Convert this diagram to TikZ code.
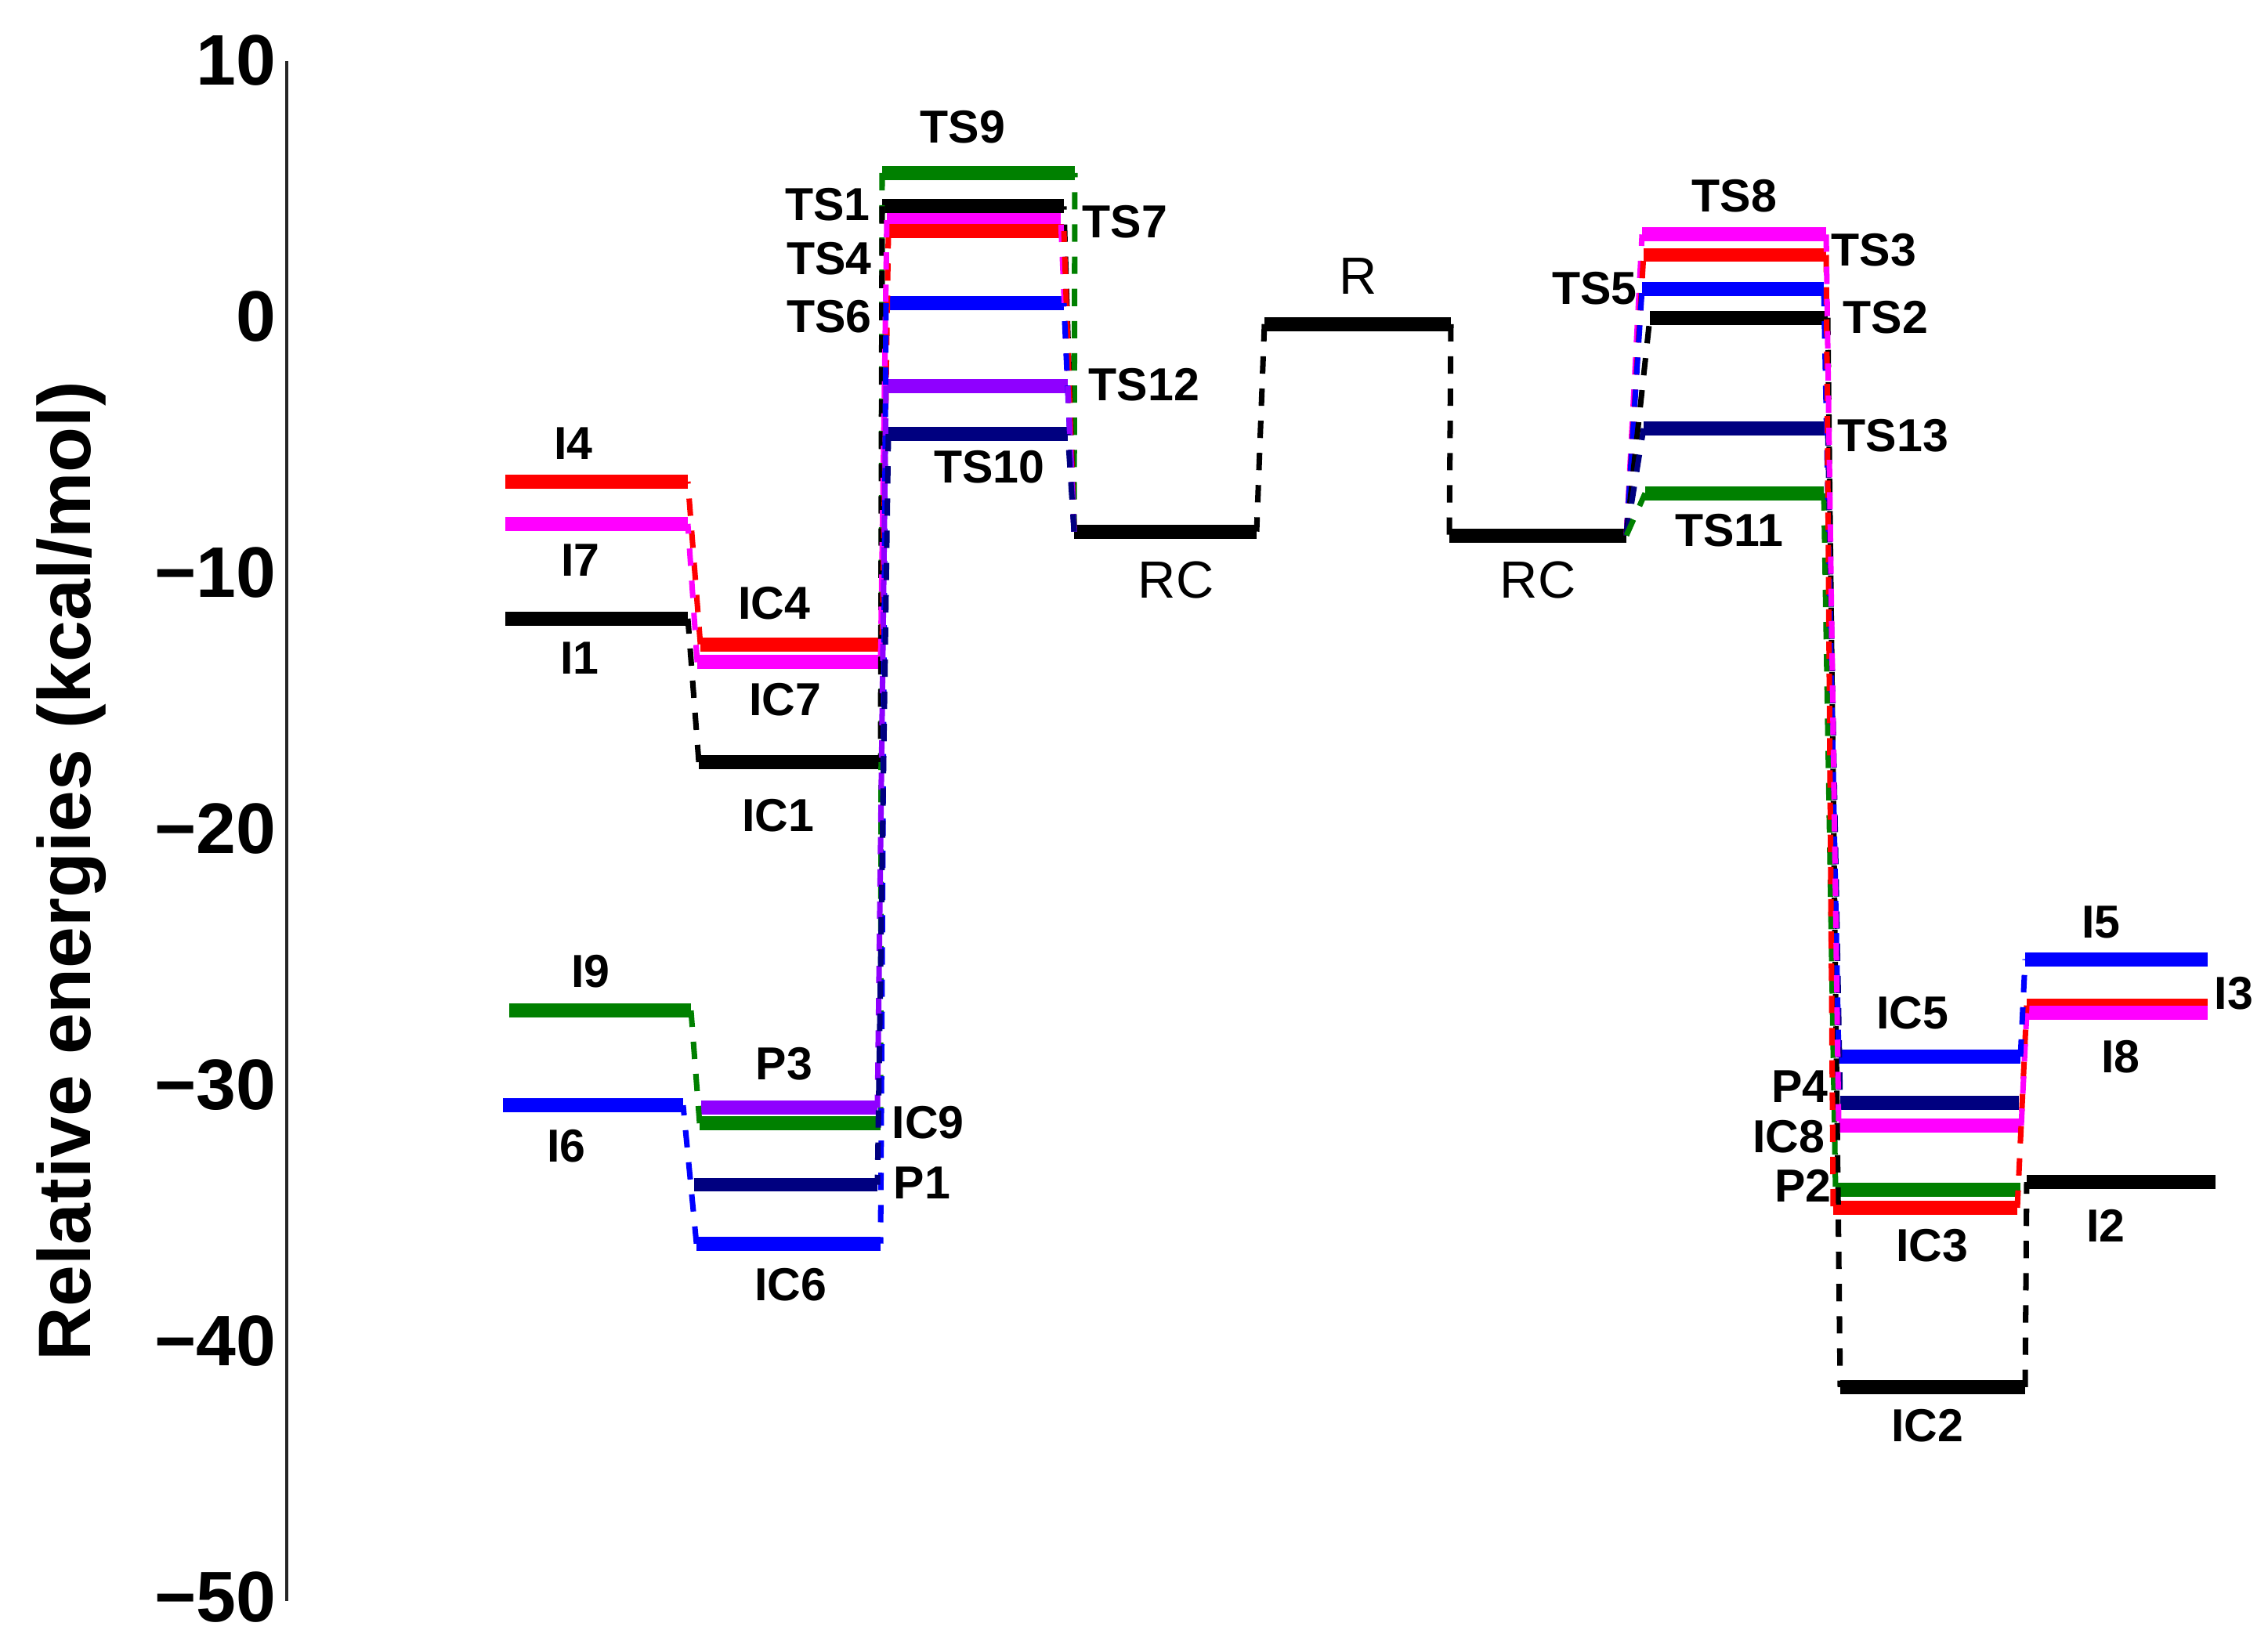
\documentclass[tikz,border=0pt]{standalone}
\usepackage{fontspec}
\setmainfont{Liberation Sans}
\definecolor{dkgreen}{RGB}{0,128,0}
\definecolor{navyc}{RGB}{0,0,128}
\definecolor{pviolet}{RGB}{143,0,255}
\definecolor{magc}{RGB}{255,0,255}
\begin{document}
\begin{tikzpicture}[x=1cm,y=1cm,
    level/.style={line width=5.1pt},
    link/.style={line width=2pt, dash pattern=on 6.3pt off 5.4pt},
    lab/.style={font=\fontsize{16.8}{20}\selectfont\bfseries, inner sep=0pt},
    biglab/.style={font=\fontsize{19}{23}\selectfont, inner sep=0pt},
    ticklab/.style={font=\fontsize{26}{30}\selectfont\bfseries, anchor=east, inner sep=0pt}]

  \useasboundingbox (0,0) rectangle (28.95,21.03);

  % axis
  \coordinate (axtop) at (3.66,20.25);
  \coordinate (axbot) at (3.66,0.59);
  \draw[line width=1.4pt, black!85] (axtop) -- (axbot);
  \node[rotate=90, font=\fontsize{27}{32}\selectfont\bfseries, inner sep=0pt] (ylab) at (0.91,9.91) {Relative energies (kcal/mol)};

  \begin{scope}[yshift=16.99cm, y=0.327cm]

    \node[ticklab] (t10)  at (3.53,10)  {10};
    \node[ticklab] (t0)   at (3.53,0)   {0};
    \node[ticklab] (tm10) at (3.53,-10) {−10};
    \node[ticklab] (tm20) at (3.53,-20) {−20};
    \node[ticklab] (tm30) at (3.53,-30) {−30};
    \node[ticklab] (tm40) at (3.53,-40) {−40};
    \node[ticklab] (tm50) at (3.53,-50) {−50};

    % levels, left branch
    \draw[level,red]     (6.45,-6.45) coordinate (I4l) -- (8.78,-6.45) coordinate (I4r);
    \draw[level,magc]    (6.45,-8.1)  coordinate (I7l) -- (8.78,-8.1)  coordinate (I7r);
    \draw[level,black]   (6.45,-11.8) coordinate (I1l) -- (8.78,-11.8) coordinate (I1r);
    \draw[level,dkgreen] (6.50,-27.1) coordinate (I9l) -- (8.82,-27.1) coordinate (I9r);
    \draw[level,blue]    (6.42,-30.8) coordinate (I6l) -- (8.72,-30.8) coordinate (I6r);

    \draw[level,red]     (8.94,-12.8) coordinate (IC4l) -- (11.26,-12.8) coordinate (IC4r);
    \draw[level,magc]    (8.90,-13.5) coordinate (IC7l) -- (11.24,-13.5) coordinate (IC7r);
    \draw[level,black]   (8.92,-17.4) coordinate (IC1l) -- (11.24,-17.4) coordinate (IC1r);
    \draw[level,pviolet] (8.95,-30.9) coordinate (P3l)  -- (11.20,-30.9) coordinate (P3r);
    \draw[level,dkgreen] (8.93,-31.5) coordinate (IC9l) -- (11.24,-31.5) coordinate (IC9r);
    \draw[level,navyc]   (8.86,-33.9) coordinate (P1l)  -- (11.20,-33.9) coordinate (P1r);
    \draw[level,blue]    (8.89,-36.2) coordinate (IC6l) -- (11.24,-36.2) coordinate (IC6r);

    \draw[level,dkgreen] (11.26,5.6)   coordinate (TS9l)  -- (13.72,5.6)   coordinate (TS9r);
    \draw[level,black]   (11.26,4.3)   coordinate (TS1l)  -- (13.58,4.3)   coordinate (TS1r);
    \draw[level,magc]    (11.32,3.76)  coordinate (TS7l)  -- (13.54,3.76)  coordinate (TS7r);
    \draw[level,red]     (11.34,3.33)  coordinate (TS4l)  -- (13.58,3.33)  coordinate (TS4r);
    \draw[level,blue]    (11.31,0.52)  coordinate (TS6l)  -- (13.58,0.52)  coordinate (TS6r);
    \draw[level,pviolet] (11.31,-2.72) coordinate (TS12l) -- (13.63,-2.72) coordinate (TS12r);
    \draw[level,navyc]   (11.34,-4.59) coordinate (TS10l) -- (13.63,-4.59) coordinate (TS10r);

    % levels, middle
    \draw[level,black] (13.71,-8.4)  coordinate (RCal) -- (16.04,-8.4)  coordinate (RCar);
    \draw[level,black] (16.14,-0.3)  coordinate (Rl)   -- (18.52,-0.3)  coordinate (Rr);
    \draw[level,black] (18.50,-8.55) coordinate (RCbl) -- (20.76,-8.55) coordinate (RCbr);

    % levels, right branch
    \draw[level,magc]    (20.96,3.2)   coordinate (TS8l)  -- (23.31,3.2)   coordinate (TS8r);
    \draw[level,red]     (20.98,2.4)   coordinate (TS3l)  -- (23.31,2.4)   coordinate (TS3r);
    \draw[level,blue]    (20.96,1.07)  coordinate (TS5l)  -- (23.28,1.07)  coordinate (TS5r);
    \draw[level,black]   (21.06,-0.05) coordinate (TS2l)  -- (23.33,-0.05) coordinate (TS2r);
    \draw[level,navyc]   (20.98,-4.37) coordinate (TS13l) -- (23.33,-4.37) coordinate (TS13r);
    \draw[level,dkgreen] (21.00,-6.9)  coordinate (TS11l) -- (23.28,-6.9)  coordinate (TS11r);

    \draw[level,blue]    (23.47,-28.9) coordinate (IC5l) -- (25.79,-28.9) coordinate (IC5r);
    \draw[level,navyc]   (23.49,-30.7) coordinate (P4l)  -- (25.77,-30.7) coordinate (P4r);
    \draw[level,magc]    (23.47,-31.6) coordinate (IC8l) -- (25.80,-31.6) coordinate (IC8r);
    \draw[level,dkgreen] (23.43,-34.1) coordinate (P2l)  -- (25.79,-34.1) coordinate (P2r);
    \draw[level,red]     (23.40,-34.8) coordinate (IC3l) -- (25.75,-34.8) coordinate (IC3r);
    \draw[level,black]   (23.49,-41.8) coordinate (IC2l) -- (25.85,-41.8) coordinate (IC2r);

    \draw[level,blue]    (25.85,-25.1) coordinate (I5l) -- (28.18,-25.1) coordinate (I5r);
    \draw[level,red]     (25.87,-26.9) coordinate (I3l) -- (28.18,-26.9) coordinate (I3r);
    \draw[level,magc]    (25.87,-27.2) coordinate (I8l) -- (28.18,-27.2) coordinate (I8r);
    \draw[level,black]   (25.87,-33.8) coordinate (I2l) -- (28.28,-33.8) coordinate (I2r);

    % dashed links, left branch
    \draw[link,dkgreen] (RCal) -- (TS9r);
    \draw[link,black]   (RCal) -- (TS1r);
    \draw[link,magc]    (RCal) -- (TS7r);
    \draw[link,red]     (RCal) -- (TS4r);
    \draw[link,blue]    (RCal) -- (TS6r);
    \draw[link,pviolet] (RCal) -- (TS12r);
    \draw[link,navyc]   (RCal) -- (TS10r);

    \draw[link,dkgreen] (TS9l)  -- (IC9r);
    \draw[link,black]   (TS1l)  -- (IC1r);
    \draw[link,red]     (TS4l)  -- (IC4r);
    \draw[link,magc]    (TS7l)  -- (IC7r);
    \draw[link,blue]    (TS6l)  -- (IC6r);
    \draw[link,pviolet] (TS12l) -- (P3r);
    \draw[link,navyc]   (TS10l) -- (P1r);

    \draw[link,red]     (IC4l) -- (I4r);
    \draw[link,magc]    (IC7l) -- (I7r);
    \draw[link,black]   (IC1l) -- (I1r);
    \draw[link,dkgreen] (IC9l) -- (I9r);
    \draw[link,blue]    (IC6l) -- (I6r);

    % dashed links, middle
    \draw[link,black] (Rl) -- (RCar);
    \draw[link,black] (Rr) -- (RCbl);

    % dashed links, right branch
    \draw[link,magc]    (RCbr) -- (TS8l);
    \draw[link,red]     (RCbr) -- (TS3l);
    \draw[link,blue]    (RCbr) -- (TS5l);
    \draw[link,black]   (RCbr) -- (TS2l);
    \draw[link,navyc]   (RCbr) -- (TS13l);
    \draw[link,dkgreen] (RCbr) -- (TS11l);

    \draw[link,dkgreen] (TS11r) -- (P2l);
    \draw[link,navyc]   (TS13r) -- (P4l);
    \draw[link,black]   (TS2r)  -- (IC2l);
    \draw[link,blue]    (TS5r)  -- (IC5l);
    \draw[link,red]     (TS3r)  -- (IC3l);
    \draw[link,magc]    (TS8r)  -- (IC8l);

    \draw[link,red]     (IC3r) -- (I3l);
    \draw[link,black]   (IC2r) -- (I2l);
    \draw[link,magc]    (IC8r) -- (I8l);
    \draw[link,blue]    (IC5r) -- (I5l);

    % labels
    \node[lab] (nI4)  at (7.32,-4.95)  {I4};
    \node[lab] (nI7)  at (7.41,-9.51)  {I7};
    \node[lab] (nI1)  at (7.40,-13.33) {I1};
    \node[lab] (nI9)  at (7.54,-25.57) {I9};
    \node[lab] (nI6)  at (7.23,-32.39) {I6};
    \node[lab] (nIC4) at (9.88,-11.19) {IC4};
    \node[lab] (nIC7) at (10.02,-14.95) {IC7};
    \node[lab] (nIC1) at (9.93,-19.48) {IC1};
    \node[lab] (nP3)  at (10.01,-29.17) {P3};
    \node[lab,anchor=west] (nIC9) at (11.38,-31.47) {IC9};
    \node[lab,anchor=west] (nP1)  at (11.40,-33.82) {P1};
    \node[lab] (nIC6) at (10.09,-37.80) {IC6};

    \node[lab] (nTS9) at (12.29,7.40) {TS9};
    \node[lab,anchor=east] (nTS1) at (11.11,4.37) {TS1};
    \node[lab,anchor=east] (nTS4) at (11.13,2.26) {TS4};
    \node[lab,anchor=east] (nTS6) at (11.13,0.0)  {TS6};
    \node[lab,anchor=west] (nTS7) at (13.81,3.70) {TS7};
    \node[lab,anchor=west] (nTS12) at (13.89,-2.66) {TS12};
    \node[lab] (nTS10) at (12.63,-5.87) {TS10};

    \node[biglab] (nRCa) at (15.01,-10.28) {RC};
    \node[biglab] (nR)   at (17.34,1.56)   {R};
    \node[biglab] (nRCb) at (19.63,-10.28) {RC};

    \node[lab] (nTS8) at (22.14,4.71) {TS8};
    \node[lab,anchor=west] (nTS3)  at (23.37,2.60)  {TS3};
    \node[lab,anchor=east] (nTS5)  at (20.90,1.10)  {TS5};
    \node[lab,anchor=west] (nTS2)  at (23.52,-0.03) {TS2};
    \node[lab,anchor=west] (nTS13) at (23.45,-4.65) {TS13};
    \node[lab] (nTS11) at (22.07,-8.35) {TS11};

    \node[lab] (nIC5) at (24.41,-27.19) {IC5};
    \node[lab,anchor=east] (nP4)  at (23.34,-30.06) {P4};
    \node[lab,anchor=east] (nIC8) at (23.30,-32.02) {IC8};
    \node[lab,anchor=east] (nP2)  at (23.38,-33.94) {P2};
    \node[lab] (nIC3) at (24.66,-36.27) {IC3};
    \node[lab] (nIC2) at (24.60,-43.30) {IC2};

    \node[lab] (nI5) at (26.82,-23.64) {I5};
    \node[lab,anchor=west] (nI3) at (28.26,-26.42) {I3};
    \node[lab] (nI8) at (27.07,-28.90) {I8};
    \node[lab] (nI2) at (26.88,-35.50) {I2};

  \end{scope}

\end{tikzpicture}
\end{document}
